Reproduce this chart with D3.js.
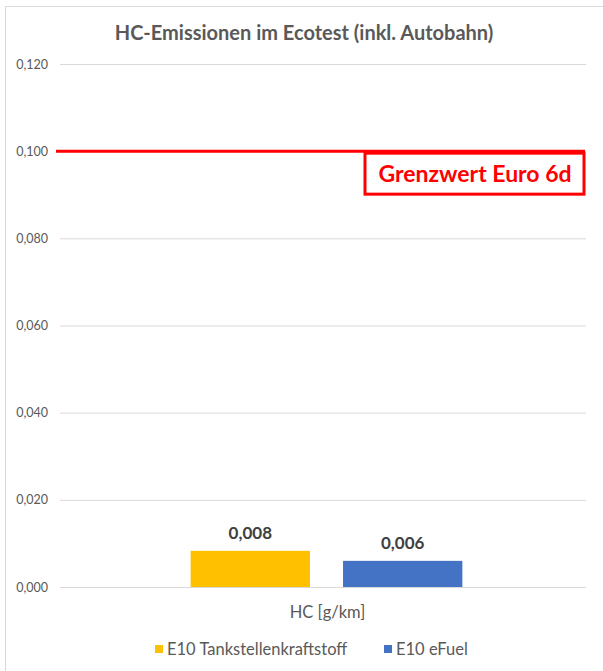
<!DOCTYPE html>
<html>
<head>
<meta charset="utf-8">
<script src="https://cdn.jsdelivr.net/npm/d3@7"></script>
<style>
  html, body { margin: 0; padding: 0; background: #fff; }
  svg { display: block; font-family: Lato, "Noto Sans", sans-serif; }
</style>
</head>
<body>
<svg id="chart" width="603" height="671"></svg>
<script>
// HC emissions per fuel, with the Euro 6d limit
const categories = ["HC [g/km]"];
const seriesNames = ["E10 Tankstellenkraftstoff", "E10 eFuel"];
const seriesColors = ["#FFC000", "#4472C4"];
const seriesValues = [[0.0083], [0.006]];
const yTicks = [0, 0.02, 0.04, 0.06, 0.08, 0.1, 0.12];
const limitValue = 0.1;
const limitLabel = "Grenzwert Euro 6d";
const title = "HC-Emissionen im Ecotest (inkl. Autobahn)";

const svg = d3.select("#chart");
const W = 603, H = 671;
const plot = { left: 60, right: 586, top: 64, bottom: 587 };
const fmt = v => d3.format(".3f")(v).replace(".", ",");

// chart frame
svg.append("rect")
  .attr("x", 5.5).attr("y", 6.5)
  .attr("width", W + 10).attr("height", H + 10)
  .attr("fill", "#fff").attr("stroke", "#d9d9d9").attr("stroke-width", 1);

svg.append("text")
  .attr("x", 304).attr("y", 40)
  .attr("text-anchor", "middle")
  .attr("font-size", 20).attr("font-weight", "bold")
  .attr("fill", "#595959")
  .text(title);

const y = d3.scaleLinear().domain([0, 0.12]).range([plot.bottom, plot.top]);
const x = d3.scaleBand().domain(categories).range([plot.left + 7, plot.right]).paddingInner(0).paddingOuter(0.455);
const xs = d3.scaleBand().domain(seriesNames).range([0, x.bandwidth()]).paddingInner(0.217);

// gridlines and tick labels
const yAxis = d3.axisLeft(y).tickValues(yTicks).tickSize(-(plot.right - plot.left)).tickPadding(12).tickFormat(fmt);
const gy = svg.append("g").attr("transform", `translate(${plot.left},0)`).call(yAxis);
gy.select(".domain").remove();
gy.selectAll(".tick line").attr("stroke", "#d9d9d9");
gy.selectAll(".tick text").attr("fill", "#595959").attr("font-size", 12.5).attr("font-family", "Lato, sans-serif");

// bars
const cat = svg.append("g").selectAll("g").data(categories).join("g")
  .attr("transform", d => `translate(${x(d)},0)`);
seriesNames.forEach((s, i) => {
  cat.append("rect")
    .attr("x", xs(s)).attr("width", xs.bandwidth())
    .attr("y", (d, j) => y(seriesValues[i][j]))
    .attr("height", (d, j) => y(0) - y(seriesValues[i][j]))
    .attr("fill", seriesColors[i]);
  cat.append("text")
    .attr("x", xs(s) + xs.bandwidth() / 2)
    .attr("y", (d, j) => y(seriesValues[i][j]) - 12)
    .attr("text-anchor", "middle")
    .attr("font-size", 17).attr("font-weight", "bold").attr("fill", "#404040")
    .text((d, j) => fmt(seriesValues[i][j]));
});

// category label
svg.append("g").selectAll("text").data(categories).join("text")
  .attr("x", d => x(d) + x.bandwidth() / 2 + 1)
  .attr("y", 618)
  .attr("text-anchor", "middle")
  .attr("font-size", 16.5).attr("fill", "#595959")
  .text(d => d);

// limit line and its label box
svg.append("line")
  .attr("x1", plot.left - 4).attr("x2", plot.right - 1)
  .attr("y1", y(limitValue)).attr("y2", y(limitValue))
  .attr("stroke", "#FF0000").attr("stroke-width", 3);
svg.append("rect")
  .attr("x", 365).attr("y", y(limitValue) + 2)
  .attr("width", 219).attr("height", 41)
  .attr("fill", "#fff").attr("stroke", "#FF0000").attr("stroke-width", 3);
svg.append("text")
  .attr("x", 475).attr("y", 182)
  .attr("text-anchor", "middle")
  .attr("font-size", 23).attr("font-weight", "bold").attr("fill", "#FF0000")
  .text(limitLabel);

// legend
const legendX = [155, 384];
const leg = svg.append("g").selectAll("g").data(seriesNames).join("g")
  .attr("transform", (d, i) => `translate(${legendX[i]},645)`);
leg.append("rect").attr("width", 8).attr("height", 8).attr("fill", (d, i) => seriesColors[i]);
leg.append("text").attr("x", 12).attr("y", 10)
  .attr("font-size", 16.5).attr("fill", "#595959").text(d => d);
</script>
</body>
</html>
